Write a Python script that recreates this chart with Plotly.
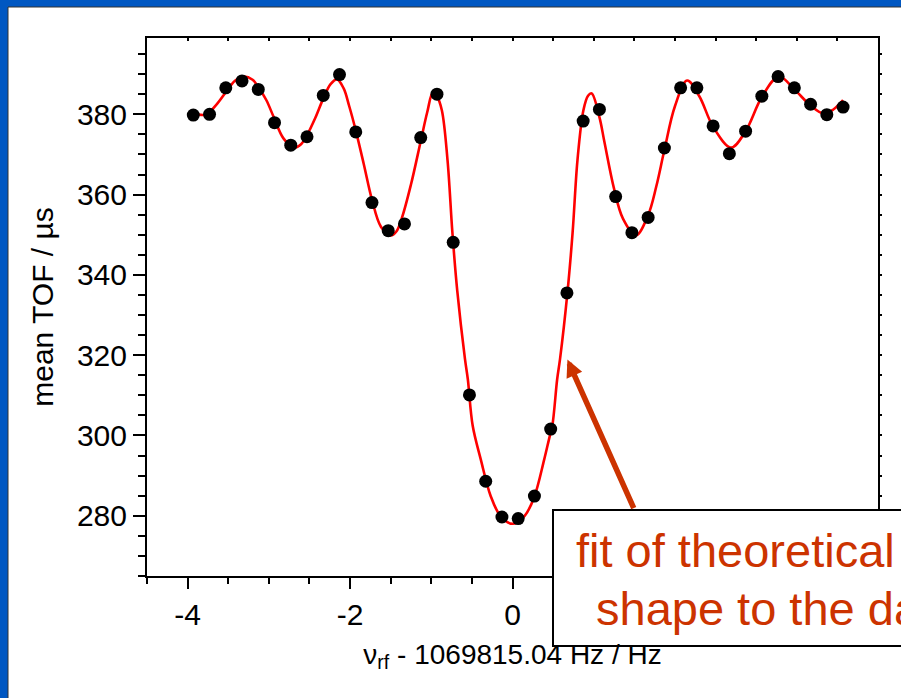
import plotly.graph_objects as go

# measured data points (x in Hz offset, mean TOF in µs)
x_data = [-3.93, -3.73, -3.53, -3.33, -3.13, -2.93, -2.73, -2.53, -2.33, -2.13,
          -1.93, -1.73, -1.53, -1.33, -1.13, -0.93, -0.73, -0.53, -0.33, -0.13,
          0.07, 0.27, 0.47, 0.67, 0.87, 1.07, 1.27, 1.47, 1.67, 1.87,
          2.07, 2.27, 2.47, 2.67, 2.87, 3.07, 3.27, 3.47, 3.67, 3.87, 4.07]
y_data = [379.8, 380.0, 386.6, 388.3, 386.2, 377.9, 372.3, 374.4, 384.7, 389.9,
          375.6, 358.0, 351.0, 352.7, 374.2, 385.0, 348.1, 310.1, 288.6, 279.7,
          279.3, 284.9, 301.6, 335.5, 378.3, 381.2, 359.5, 350.5, 354.3, 371.6,
          386.6, 386.6, 377.1, 370.2, 375.8, 384.5, 389.4, 386.6, 382.5, 379.9, 381.8]

# fitted line shape
fit_x = [-3.94, -3.78, -3.65, -3.53, -3.42, -3.31, -3.20, -3.13, -3.03, -2.94,
         -2.82, -2.69, -2.60, -2.53, -2.43, -2.33, -2.24, -2.16, -2.08, -2.01,
         -1.93, -1.83, -1.73, -1.62, -1.50, -1.43, -1.36, -1.25, -1.13, -1.05,
         -0.98, -0.93, -0.87, -0.80, -0.74, -0.68, -0.585, -0.55, -0.49, -0.39,
         -0.27, -0.15, 0.0, 0.15, 0.265, 0.39, 0.45, 0.49, 0.55, 0.585,
         0.676, 0.74, 0.80, 0.873, 0.93, 0.975, 1.07, 1.13, 1.25, 1.36,
         1.52, 1.67, 1.77, 1.87, 2.00, 2.15, 2.30, 2.47, 2.69, 2.87,
         3.07, 3.28, 3.47, 3.67, 3.83, 3.95, 4.07]
fit_y = [380.4, 379.9, 382.3, 385.5, 388.3, 389.4, 388.6, 386.8, 383.5, 379.3,
         374.0, 371.7, 372.6, 374.8, 379.0, 383.9, 387.5, 388.7, 386.5, 382.0,
         376.0, 367.5, 358.7, 352.0, 349.8, 350.8, 354.3, 362.5, 373.3, 380.5,
         385.4, 384.5, 381.0, 368.6, 350.5, 336.0, 319.0, 314.0, 302.4, 294.0,
         285.0, 280.0, 278.0, 280.0, 284.5, 294.0, 299.1, 302.4, 314.0, 319.0,
         335.5, 350.5, 368.6, 381.0, 384.6, 385.2, 379.3, 373.3, 361.5, 354.0,
         349.8, 354.9, 362.0, 371.1, 382.0, 388.4, 384.5, 376.9, 371.7, 375.8,
         384.3, 389.4, 386.2, 382.2, 380.2, 381.2, 383.5]

x_tickvals = [-4, -2, 0, 2, 4]
x_ticktext = ["-4", "-2", "0", "2", "4"]
y_tickvals = [280, 300, 320, 340, 360, 380]
y_ticktext = ["280", "300", "320", "340", "360", "380"]

x_title = "ν<sub>rf</sub> - 1069815.04 Hz / Hz"
y_title = "mean TOF / µs"
note_line1 = "fit of theoretical line"
note_line2 = "shape to the data"

FONT = "Arial, Liberation Sans, sans-serif"
ORANGE = "#CC3300"

fig = go.Figure()
fig.add_trace(go.Scatter(x=fit_x, y=fit_y, mode="lines",
                         line=dict(color="#FF0000", width=2.6, shape="spline", smoothing=1.0),
                         hoverinfo="skip", showlegend=False))
fig.add_trace(go.Scatter(x=x_data, y=y_data, mode="markers",
                         marker=dict(color="black", size=13),
                         showlegend=False))
# dummy trace to activate the mirrored (top/right) tick axes
fig.add_trace(go.Scatter(x=[None], y=[None], xaxis="x2", yaxis="y2",
                         showlegend=False, hoverinfo="skip"))

axis_common = dict(showgrid=False, zeroline=False, linecolor="black", linewidth=2,
                   ticks="outside", tickcolor="black", tickwidth=2,
                   tickfont=dict(family=FONT, size=30, color="black"))

fig.update_layout(
    width=901, height=698,
    margin=dict(l=147, r=23, t=38, b=122),
    paper_bgcolor="#0057C2",
    plot_bgcolor="white",
    font=dict(family=FONT, color="black"),
    xaxis=dict(range=[-4.5, 4.5], tickmode="array", tickvals=x_tickvals, ticktext=x_ticktext,
               ticklen=11, mirror=True,
               minor=dict(tickmode="linear", tick0=0, dtick=0.5, ticklen=6,
                          tickcolor="black", tickwidth=2, ticks="outside"),
               title=dict(text=x_title, font=dict(family=FONT, size=28), standoff=14),
               **axis_common),
    yaxis=dict(range=[265, 399], tickmode="array", tickvals=y_tickvals, ticktext=y_ticktext,
               ticklen=12, mirror=True,
               minor=dict(tickmode="linear", tick0=280, dtick=5, ticklen=7,
                          tickcolor="black", tickwidth=2, ticks="outside"),
               title=dict(text=y_title, font=dict(family=FONT, size=30), standoff=14),
               **axis_common),
    xaxis2=dict(range=[-4.5, 4.5], overlaying="x", side="top", showgrid=False,
                zeroline=False, showline=False, showticklabels=False,
                ticks="inside", ticklen=3, tickwidth=1.5, tickcolor="black", dtick=0.5, tick0=0),
    yaxis2=dict(range=[265, 399], overlaying="y", side="right", showgrid=False,
                zeroline=False, showline=False, showticklabels=False,
                ticks="outside", ticklen=3, tickwidth=1.5, tickcolor="black", dtick=5, tick0=280),
)

W = 731.0
H = 538.0
def px_x(p):
    return (p - 147) / W
def px_y(p):
    return (576 - p) / H

# white slide panel inside blue frame
fig.add_shape(type="rect", xref="paper", yref="paper", layer="below",
              x0=px_x(8), x1=px_x(915), y0=px_y(715), y1=px_y(7),
              fillcolor="white", line=dict(color="#333333", width=1))

# annotation box
fig.add_shape(type="rect", xref="paper", yref="paper", layer="above",
              x0=px_x(553), x1=px_x(1007), y0=px_y(646), y1=px_y(510),
              fillcolor="white", line=dict(color="black", width=2))

fig.add_annotation(xref="paper", yref="paper", x=px_x(778), y=px_y(550.5),
                   text=note_line1, showarrow=False, xanchor="center", yanchor="middle",
                   font=dict(family=FONT, size=47, color=ORANGE))
fig.add_annotation(xref="paper", yref="paper", x=px_x(778), y=px_y(608.5),
                   text=note_line2, showarrow=False, xanchor="center", yanchor="middle",
                   font=dict(family=FONT, size=47, color=ORANGE))

# arrow pointing to the fit curve
fig.add_annotation(xref="x", yref="y", x=0.676, y=318.9, text="",
                   showarrow=True, ax=67, ay=150, arrowcolor=ORANGE,
                   arrowwidth=5.5, arrowhead=2, arrowsize=0.62, standoff=0)

fig.write_html("out.html",
               config={"displayModeBar": False},
               post_script="document.body.style.margin='0';document.body.style.overflow='hidden';")
